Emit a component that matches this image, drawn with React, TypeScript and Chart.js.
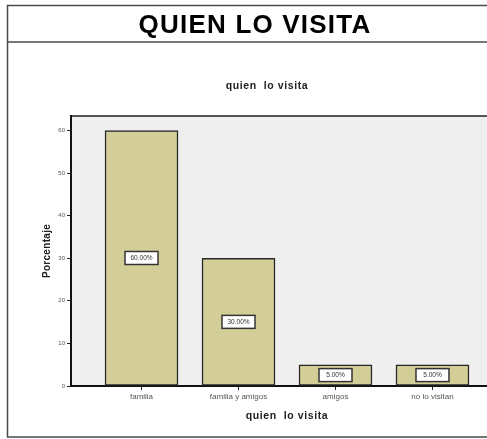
import React, { useEffect, useRef } from "react";
import { Chart, registerables } from "chart.js";

Chart.register(...registerables);

const categories = ["familia", "familia y amigos", "amigos", "no lo visitan"];
const percentages = [60, 30, 5, 5];
const barLabels = ["60.00%", "30.00%", "5.00%", "5.00%"];
const yTicks = [0, 10, 20, 30, 40, 50, 60];
const mainTitle = "QUIEN LO VISITA";
const chartTitle = "quien  lo visita";
const xTitle = "quien  lo visita";
const yTitle = "Porcentaje";

const FONT = "'Liberation Sans', Arial, sans-serif";

const framePlugin = {
  id: "spssFrame",
  beforeDraw(chart: any) {
    const { ctx, chartArea } = chart;
    ctx.save();
    ctx.fillStyle = "#ffffff";
    ctx.fillRect(0, 0, chart.width, chart.height);
    // outer frame
    ctx.strokeStyle = "#4a4a4a";
    ctx.lineWidth = 1.5;
    ctx.strokeRect(7.5, 5.5, chart.width + 20, 431.5);
    ctx.beginPath();
    ctx.moveTo(7.5, 42);
    ctx.lineTo(chart.width + 5, 42);
    ctx.stroke();
    // main title
    ctx.fillStyle = "#000";
    ctx.font = `bold 26px ${FONT}`;
    ctx.textAlign = "center";
    ctx.textBaseline = "alphabetic";
    (ctx as any).letterSpacing = "1.2px";
    ctx.fillText(mainTitle, 255, 33);
    // chart title
    (ctx as any).letterSpacing = "0.6px";
    ctx.font = `bold 10.5px ${FONT}`;
    ctx.fillStyle = "#222";
    ctx.fillText(chartTitle, 267, 89);
    // plot background
    ctx.fillStyle = "#efefef";
    ctx.fillRect(chartArea.left, chartArea.top, chartArea.right - chartArea.left, chartArea.bottom - chartArea.top);
    ctx.strokeStyle = "#555";
    ctx.lineWidth = 2;
    ctx.beginPath();
    ctx.moveTo(chartArea.left, chartArea.top);
    ctx.lineTo(chartArea.right, chartArea.top);
    ctx.stroke();
    // axis titles
    ctx.fillStyle = "#222";
    ctx.font = `bold 10.5px ${FONT}`;
    ctx.fillText(xTitle, 287, 419);
    ctx.translate(50, (chartArea.top + chartArea.bottom) / 2);
    ctx.rotate(-Math.PI / 2);
    ctx.font = `bold 10px ${FONT}`;
    (ctx as any).letterSpacing = "0.3px";
    ctx.fillText(yTitle, 0, 0);
    ctx.restore();
  },
  afterDatasetsDraw(chart: any) {
    const { ctx } = chart;
    const meta = chart.getDatasetMeta(0);
    ctx.save();
    ctx.font = `6.5px ${FONT}`;
    ctx.textAlign = "center";
    ctx.textBaseline = "middle";
    meta.data.forEach((bar: any, i: number) => {
      const cy = (bar.y + bar.base) / 2;
      const w = 33;
      const h = 13;
      ctx.fillStyle = "#ffffff";
      ctx.fillRect(bar.x - w / 2, cy - h / 2, w, h);
      ctx.strokeStyle = "#333";
      ctx.lineWidth = 1.5;
      ctx.strokeRect(bar.x - w / 2, cy - h / 2, w, h);
      ctx.fillStyle = "#333";
      ctx.fillText(barLabels[i], bar.x, cy + 0.5);
    });
    ctx.restore();
  },
};

export default function App() {
  const ref = useRef<HTMLCanvasElement>(null);
  useEffect(() => {
    if (!ref.current) return;
    const chart = new Chart(ref.current, {
      type: "bar",
      data: {
        datasets: [
          {
            data: percentages.map((v, i) => ({ x: i, y: v })),
            backgroundColor: "#d3ce97",
            borderColor: "#262626",
            borderWidth: 1.5,
            borderSkipped: false,
            barThickness: 73,
          } as any,
        ],
      },
      plugins: [framePlugin],
      options: {
        animation: false,
        responsive: false,
        maintainAspectRatio: false,
        layout: { padding: { left: 31, top: 116, right: 0, bottom: 23 } },
        plugins: {
          legend: { display: false },
          tooltip: { enabled: false },
          title: { display: false },
        },
        scales: {
          x: {
            type: "linear",
            offset: false,
            min: -0.727,
            max: 3.562,
            afterFit: (s: any) => {
              s.height = 30;
              s.paddingLeft = 0;
              s.paddingRight = 0;
            },
            afterBuildTicks: (s: any) => {
              s.ticks = categories.map((_, i) => ({ value: i }));
            },
            ticks: {
              autoSkip: false,
              maxRotation: 0,
              padding: 2,
              color: "#555",
              font: { family: FONT, size: 8 },
              callback: (v: any) => categories[v as number] ?? "",
            },
            grid: { offset: false, drawOnChartArea: false, drawTicks: true, tickLength: 4, color: "#222", lineWidth: 1 },
            border: { display: true, color: "#111", width: 2 },
          },
          y: {
            min: 0,
            max: 63.4,
            afterFit: (s: any) => {
              s.width = 40;
              s.paddingTop = 0;
              s.paddingBottom = 0;
            },
            afterBuildTicks: (s: any) => {
              s.ticks = yTicks.map((v) => ({ value: v }));
            },
            ticks: {
              padding: 2,
              color: "#555",
              font: { family: FONT, size: 6 },
            },
            grid: { drawOnChartArea: false, drawTicks: true, tickLength: 4, color: "#222", lineWidth: 1 },
            border: { display: true, color: "#111", width: 2 },
          },
        },
      } as any,
    });
    return () => chart.destroy();
  }, []);
  return (
    <div style={{ position: "absolute", left: 0, top: 0, width: 487, height: 439, overflow: "hidden" }}>
      <canvas ref={ref} width={487} height={439} style={{ width: 487, height: 439, display: "block" }} />
    </div>
  );
}
